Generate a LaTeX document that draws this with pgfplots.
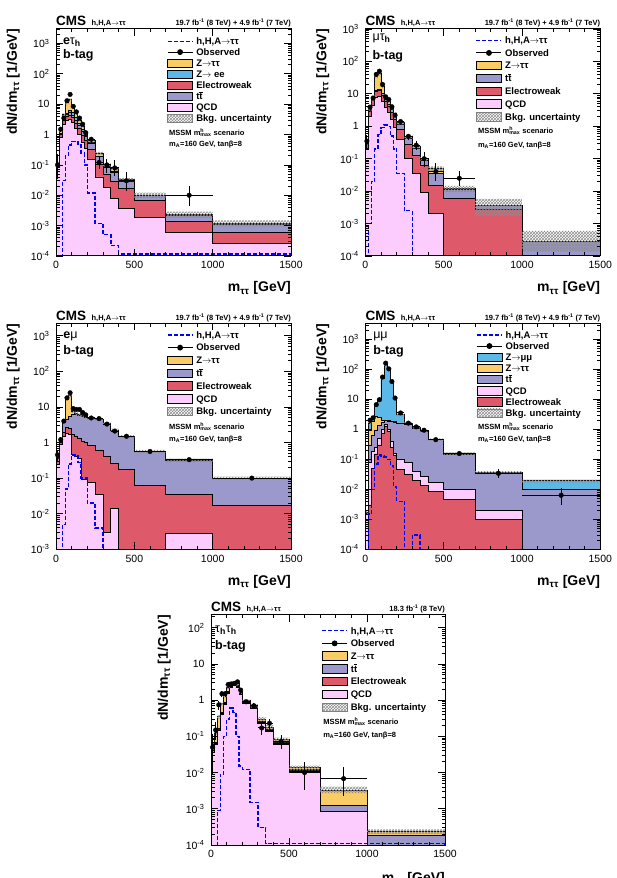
\documentclass[border=0pt]{standalone}
\usepackage{fontspec}
\setmainfont{Liberation Sans}
\usepackage{pgfplots}
\pgfplotsset{compat=1.18}
\usepackage{pgfplotstable}
\usetikzlibrary{patterns}

\definecolor{cZtt}{RGB}{250,204,102}
\definecolor{cZll}{RGB}{92,184,230}
\definecolor{cEWK}{RGB}{222,90,106}
\definecolor{cTT}{RGB}{155,152,204}
\definecolor{cQCD}{RGB}{252,204,255}
\definecolor{cSig}{RGB}{0,0,255}

% common look of all five panels
\pgfplotsset{
  scale only axis, width=235pt, height=227pt,
  xmin=0, xmax=1500,
  xtick={0,500,1000,1500}, xticklabels={0,500,1000,1500},
  minor x tick num=4,
  minor ytick={2e-5,3e-5,4e-5,5e-5,6e-5,7e-5,8e-5,9e-5,
    2e-4,3e-4,4e-4,5e-4,6e-4,7e-4,8e-4,9e-4,
    2e-3,3e-3,4e-3,5e-3,6e-3,7e-3,8e-3,9e-3,
    0.02,0.03,0.04,0.05,0.06,0.07,0.08,0.09,
    0.2,0.3,0.4,0.5,0.6,0.7,0.8,0.9,
    2,3,4,5,6,7,8,9,20,30,40,50,60,70,80,90,
    200,300,400,500,600,700,800,900,
    2000,3000,4000,5000,6000,7000,8000,9000},
  tick align=inside,
  major tick length=7pt, minor tick length=3.5pt,
  every tick/.style={black, line width=0.8pt},
  axis line style={line width=1pt},
  ticklabel style={font=\fontsize{10.5}{12}\selectfont},
  xticklabel style={yshift=-2pt},
  yticklabel style={xshift=-3pt},
  xlabel={m\textsubscript{ττ} [GeV]},
  ylabel={dN/dm\textsubscript{ττ} [1/GeV]},
  label style={font=\bfseries\fontsize{14}{16}\selectfont, inner sep=0pt},
  xlabel style={at={(axis description cs:1,-0.113)}, anchor=north east},
  ylabel style={at={(axis description cs:-0.21,1)}, anchor=north east},
  axis on top,
  legend cell align=left,
  legend style={draw=none, fill=none, inner sep=0pt, outer sep=0pt, anchor=north west,
    font=\bfseries\fontsize{9.5}{10}\selectfont,
    nodes={inner xsep=3pt, inner ysep=0pt, text height=7.8pt, text depth=1.2pt}},
}

\pgfplotsset{
  cmsbox/.style={legend image code/.code={\draw[line width=0.8pt,##1] (0pt,-4.2pt) rectangle (25pt,4.2pt);}},
  cmsline/.style={legend image code/.code={\draw[##1] (0pt,0pt) -- (25pt,0pt);}},
  cmsobs/.style={legend image code/.code={\draw[##1] (0pt,0pt) -- (25pt,0pt); \fill[black] (12.5pt,0pt) circle (2.4pt);}},
  stackfill/.style={const plot, mark=none, draw=black, line width=0.9pt, forget plot},
  sigdash/.style={const plot, mark=none, cSig, line width=1.4pt, dash pattern=on 4pt off 2pt, forget plot},
  % upper edge and lower edge of the band in one path; even-odd leaves only the strip between them
  uncband/.style={const plot, mark=none, draw=none, pattern=crosshatch, pattern color=black!45, even odd rule, forget plot},
  datapts/.style={only marks, mark=*, mark size=2.3pt, black, mark options={solid, fill=black, draw=black}, forget plot,
    error bars/x dir=both, error bars/x explicit, error bars/y dir=both, error bars/y explicit,
    error bars/error mark=none, error bars/error bar style={line width=1pt, black}},
}
\tikzset{
  chanlab/.style={anchor=west, inner sep=0pt, font=\bfseries\fontsize{12.5}{14}\selectfont},
  notelab/.style={anchor=west, inner sep=0pt, font=\bfseries\fontsize{7.5}{8}\selectfont},
  toplab/.style={inner sep=0pt, font=\bfseries\fontsize{7.5}{8}\selectfont},
  cmslab/.style={anchor=base west, inner sep=0pt, font=\bfseries\fontsize{13.5}{14}\selectfont},
}

% ---------------- e tau_h, b-tag ----------------
\pgfplotstableread{
x qcd ewk tt zee ztt sig
0 1e-9 1e-9 1e-9 1e-9 1e-9 1e-9
0 0.08 0.095 0.105 0.105 0.12 1e-9
20 0.8 1.0 1.1 1.1 1.4 1e-9
40 2.2 2.9 3.2 3.3 4.5 0.03
60 3.0 4.0 4.6 5.0 11 0.2
80 3.2 4.4 5.2 6.0 14 0.45
100 2.5 3.6 4.3 5.3 8.5 0.6
120 1.6 2.4 3.0 3.8 5.0 0.6
140 1.0 1.55 2.0 2.4 3.0 0.45
160 0.55 0.95 1.3 1.45 1.8 0.25
180 0.35 0.62 0.85 0.9 1.05 0.1
200 0.15 0.32 0.52 0.54 0.62 0.012
250 0.04 0.10 0.19 0.19 0.24 0.0012
300 0.018 0.05 0.085 0.086 0.10 0.0005
350 0.008 0.029 0.058 0.059 0.075 0.00022
400 0.0036 0.0166 0.0275 0.0278 0.033 1.15e-4
500 0.0019 0.0068 0.0098 0.0099 0.0100 1.15e-4
700 0.0006 0.0014 0.0022 0.0022 0.0023 1.15e-4
1000 0.00025 0.0006 0.0011 0.0011 0.0012 1.15e-4
1500 0.00025 0.0006 0.0011 0.0011 0.0012 1.15e-4
1500 1e-9 1e-9 1e-9 1e-9 1e-9 1e-9
}\tabA
\pgfplotstableread{
x y
0 1e-9
0 0.135
20 1.55
40 5.0
60 12.2
80 15.5
100 9.4
120 5.55
140 3.35
160 2.0
180 1.17
200 0.69
250 0.27
300 0.112
350 0.085
400 0.037
500 0.0122
700 0.0029
1000 0.0015
1500 0.0015
1500 1e-9
0 1e-9
0 0.105
20 1.25
40 4.0
60 9.8
80 12.5
100 7.6
120 4.45
140 2.65
160 1.6
180 0.93
200 0.55
250 0.21
300 0.088
350 0.065
400 0.029
500 0.0082
700 0.0018
1000 0.00095
1500 0.00095
1500 1e-9
}\bandA
\pgfplotstableread{
xc ex v ep em
10 10 0.1 0.13 0.065
30 10 1.5 0.3 0.27
50 10 3.5 0.42 0.42
70 10 13 0.8 0.8
90 10 21 1.0 1.0
110 10 8.5 0.65 0.65
130 10 5.6 0.53 0.53
150 10 3.5 0.42 0.42
170 10 2.2 0.33 0.33
190 10 1.15 0.24 0.24
225 25 0.7 0.12 0.12
275 25 0.12 0.065 0.048
325 25 0.1 0.06 0.044
375 25 0.08 0.063 0.038
450 50 0.03 0.029 0.016
850 150 0.01 0.0097 0.0055
}\obsA

% ---------------- mu tau_h, b-tag ----------------
\pgfplotstableread{
x qcd ewk tt ztt sig
0 1e-9 1e-9 1e-9 1e-9 1e-9
0 0.2 0.27 0.29 0.32 1e-9
20 2.0 2.8 3.0 3.3 0.001
40 4.5 6.5 7.0 8.0 0.02
60 8 11.5 12.5 35 0.2
80 8.5 12.5 13.5 42 0.55
100 6 9 10 17 0.9
120 3.8 5.8 6.6 8.5 1.1
140 2.6 4.0 4.8 5.8 1.0
160 1.6 2.6 3.2 3.8 0.5
180 0.95 1.6 2.1 2.4 0.2
200 0.4 0.8 1.15 1.3 0.035
250 0.1 0.28 0.42 0.47 0.0025
300 0.035 0.13 0.21 0.24 1e-9
350 0.009 0.06 0.09 0.10 1e-9
400 0.002 0.015 0.036 0.05 1e-9
500 1e-9 0.006 0.0115 0.012 1e-9
700 1e-9 0.0028 0.0035 0.0036 1e-9
1000 1e-9 1e-9 0.00028 0.00029 1e-9
1500 1e-9 1e-9 0.00028 0.00029 1e-9
1500 1e-9 1e-9 1e-9 1e-9 1e-9
}\tabB
\pgfplotstableread{
x y
0 1e-9
0 0.37
20 3.7
40 9.0
60 39
80 47
100 19
120 9.5
140 6.5
160 4.25
180 2.7
200 1.45
250 0.53
300 0.27
350 0.112
400 0.058
500 0.0145
700 0.0058
1000 0.0006
1500 0.0006
1500 1e-9
0 1e-9
0 0.27
20 2.9
40 7.0
60 31
80 37
100 15
120 7.5
140 5.1
160 3.35
180 2.1
200 1.15
250 0.41
300 0.21
350 0.088
400 0.042
500 0.0095
700 0.0017
1000 0.00014
1500 0.00014
1500 1e-9
}\bandB
\pgfplotstableread{
xc ex v ep em
10 10 0.35 0.17 0.13
30 10 3.9 0.44 0.44
50 10 7.4 0.61 0.61
70 10 40 1.4 1.4
90 10 50 1.6 1.6
110 10 19.6 1.0 1.0
130 10 8.1 0.64 0.64
150 10 6.7 0.58 0.58
170 10 4.0 0.45 0.45
190 10 2.2 0.33 0.33
225 25 1.4 0.17 0.17
275 25 0.49 0.1 0.1
325 25 0.26 0.085 0.072
375 25 0.1 0.06 0.044
450 50 0.04 0.032 0.019
600 100 0.025 0.017 0.011
}\obsB

% ---------------- e mu, b-tag ----------------
\pgfplotstableread{
x qcd ewk tt ztt sig
0 1e-9 1e-9 1e-9 1e-9 1e-9
0 0.25 0.3 0.35 0.38 1e-9
20 0.9 1.1 1.2 1.3 1e-9
40 1.5 1.9 3.6 4.2 0.005
60 1.8 2.7 4.5 17 0.05
80 1.7 2.5 5.5 21 0.25
100 0.45 1.7 6.0 7.5 0.45
120 0.4 1.5 6.0 6.5 0.42
140 0.35 1.3 5.8 6.0 0.28
160 0.09 1.1 5.5 5.6 0.1
180 0.09 1.0 5.2 5.3 0.1
200 0.075 0.84 4.6 4.7 0.02
250 0.035 0.6 4.4 4.45 0.004
300 0.003 0.4 3.3 3.35 1e-9
350 0.014 0.26 2.2 2.25 1e-9
400 1e-9 0.17 1.45 1.48 1e-9
500 1e-9 0.063 0.55 0.56 1e-9
700 0.0027 0.035 0.31 0.32 1e-9
1000 1e-9 0.017 0.1 0.1 1e-9
1500 1e-9 0.017 0.1 0.1 1e-9
1500 1e-9 1e-9 1e-9 1e-9 1e-9
}\tabC
\pgfplotstableread{
x y
0 1e-9
0 0.42
20 1.43
40 4.6
60 18.5
80 23
100 8.2
120 7.1
140 6.55
160 6.1
180 5.8
200 5.1
250 4.85
300 3.65
350 2.45
400 1.61
500 0.62
700 0.355
1000 0.11
1500 0.11
1500 1e-9
0 1e-9
0 0.34
20 1.17
40 3.8
60 15.5
80 19
100 6.8
120 5.9
140 5.45
160 5.1
180 4.8
200 4.3
250 4.05
300 3.05
350 2.05
400 1.35
500 0.5
700 0.285
1000 0.09
1500 0.09
1500 1e-9
}\bandC
\pgfplotstableread{
xc ex v ep em
10 10 0.45 0.15 0.15
30 10 1.2 0.25 0.25
50 10 4.0 0.45 0.45
70 10 18 0.95 0.95
90 10 25 1.1 1.1
110 10 9 0.67 0.67
130 10 8.5 0.65 0.65
150 10 8.5 0.65 0.65
170 10 7 0.6 0.6
190 10 6 0.55 0.55
225 25 4.9 0.31 0.31
275 25 4.7 0.31 0.31
325 25 3.3 0.26 0.26
375 25 2.1 0.2 0.2
450 50 1.5 0.12 0.12
600 100 0.56 0.053 0.053
850 150 0.33 0.033 0.033
1250 250 0.1 0.014 0.014
}\obsC

% ---------------- mu mu, b-tag ----------------
\pgfplotstableread{
x ewk qcd tt ztt zmm sig
0 1e-9 1e-9 1e-9 1e-9 1e-9 1e-9
0 1e-9 0.0015 0.0016 0.0016 0.0017 1e-9
20 0.003 0.08 0.3 0.9 1.6 0.0015
40 0.05 0.18 0.6 1.8 2.6 0.01
60 0.15 0.25 0.9 2.7 6.5 0.07
80 0.3 0.5 1.3 2.4 10 0.14
100 0.7 1.0 1.7 2.0 50 0.13
120 1.2 1.4 1.9 2.0 140 0.12
140 0.85 1.0 1.85 1.9 95 0.1
160 0.24 0.4 1.8 1.85 38 0.06
180 0.13 0.16 1.75 1.8 10.5 0.012
200 0.046 0.1 1.6 1.62 3.0 0.004
250 0.031 0.076 1.4 1.42 1.6 1e-9
300 0.019 0.04 1.1 1.11 1.15 0.0003
350 0.013 0.027 0.85 0.86 0.88 1e-9
400 0.0087 0.017 0.45 0.455 0.46 1e-9
500 0.0046 0.01 0.145 0.147 0.155 1e-9
700 0.001 0.0019 0.035 0.0352 0.036 1e-9
1000 1e-9 1e-9 0.0099 0.0099 0.019 1e-9
1500 1e-9 1e-9 0.0099 0.0099 0.019 1e-9
1500 1e-9 1e-9 1e-9 1e-9 1e-9 1e-9
}\tabD
\pgfplotstableread{
x y
0 1e-9
0 0.0019
20 1.75
40 2.85
60 7.1
80 10.9
100 54
120 150
140 102
160 41
180 11.3
200 3.25
250 1.73
300 1.25
350 0.96
400 0.5
500 0.17
700 0.04
1000 0.021
1500 0.021
1500 1e-9
0 1e-9
0 0.0015
20 1.45
40 2.35
60 5.9
80 9.1
100 46
120 130
140 88
160 35
180 9.7
200 2.75
250 1.47
300 1.05
350 0.8
400 0.42
500 0.14
700 0.032
1000 0.017
1500 0.017
1500 1e-9
}\bandD
\pgfplotstableread{
xc ex v ep em
30 10 2.0 0.32 0.32
50 10 2.4 0.35 0.35
70 10 6.6 0.57 0.57
90 10 9.7 0.7 0.7
110 10 55 1.66 1.66
130 10 160 2.8 2.8
150 10 103 2.3 2.3
170 10 39 1.4 1.4
190 10 11 0.74 0.74
225 25 3.5 0.26 0.26
275 25 1.6 0.18 0.18
325 25 1.2 0.155 0.155
375 25 0.93 0.136 0.136
450 50 0.45 0.067 0.067
600 100 0.155 0.028 0.028
850 150 0.034 0.013 0.0105
1250 250 0.0063 0.0045 0.0033
}\obsD

% ---------------- tau_h tau_h, b-tag ----------------
\pgfplotstableread{
x qcd ewk tt ztt sig
0 1e-9 1e-9 1e-9 1e-9 1e-9
0 0.035 0.037 0.04 0.065 1e-9
20 0.06 0.065 0.07 0.13 1e-9
40 0.15 0.16 0.17 0.35 0.0009
60 0.4 0.43 0.46 0.8 0.009
80 0.75 0.8 0.85 1.35 0.1
100 1.5 1.6 1.7 2.3 0.3
120 2.3 2.45 2.6 3.0 0.6
140 2.5 2.65 2.8 3.1 0.45
160 2.3 2.45 2.6 2.8 0.1
180 1.4 1.5 1.6 1.7 0.015
200 0.8 0.85 0.9 0.95 0.012
250 0.58 0.61 0.65 0.7 0.0015
300 0.22 0.24 0.26 0.3 0.0003
350 0.14 0.15 0.16 0.18 1.1e-4
400 0.06 0.065 0.07 0.08 1.1e-4
500 0.0105 0.0112 0.0125 0.0135 1.1e-4
700 0.00083 0.00086 0.0012 0.0033 1.1e-4
1000 1e-9 1e-9 0.00018 0.00023 1.1e-4
1500 1e-9 1e-9 0.00018 0.00023 1.1e-4
1500 1e-9 1e-9 1e-9 1e-9 1e-9
}\tabE
\pgfplotstableread{
x y
0 1e-9
0 0.075
20 0.15
40 0.39
60 0.89
80 1.5
100 2.55
120 3.3
140 3.4
160 3.1
180 1.88
200 1.05
250 0.78
300 0.34
350 0.205
400 0.092
500 0.0155
700 0.0041
1000 0.00027
1500 0.00027
1500 1e-9
0 1e-9
0 0.055
20 0.11
40 0.31
60 0.71
80 1.2
100 2.05
120 2.7
140 2.8
160 2.5
180 1.52
200 0.85
250 0.62
300 0.26
350 0.155
400 0.068
500 0.0115
700 0.0027
1000 0.0002
1500 0.0002
1500 1e-9
}\bandE
\pgfplotstableread{
xc ex v ep em
10 10 0.05 0.066 0.041
30 10 0.15 0.1 0.07
50 10 0.74 0.19 0.19
70 10 1.5 0.27 0.27
90 10 1.5 0.27 0.27
110 10 2.7 0.37 0.37
130 10 2.8 0.37 0.37
150 10 2.9 0.38 0.38
170 10 3.2 0.4 0.4
190 10 1.9 0.31 0.31
225 25 0.9 0.134 0.134
275 25 0.7 0.118 0.118
325 25 0.17 0.07 0.058
375 25 0.23 0.068 0.068
450 50 0.072 0.034 0.026
600 100 0.01 0.01 0.0067
850 150 0.0068 0.0078 0.0046
}\obsE

\newcommand\ttbar{t$\overline{\mbox{t}}$}
\newcommand\mssm{MSSM m\rlap{\textsuperscript{h}}\textsubscript{max} scenario}
\newcommand\mAtb{m\textsubscript{A}=160 GeV, tanβ=8}
\newcommand\lumiboth{19.7 fb\textsuperscript{-1} (8 TeV) + 4.9 fb\textsuperscript{-1} (7 TeV)}
\newcommand\signame{h,H,A$\rightarrow$ττ}
% title line above a named axis
\newcommand\cmstitle[2]{%
  \node[cmslab] (#1cms) at ([yshift=3pt]#1.north west) {CMS};
  \node[toplab, anchor=base west] at ([xshift=5pt]#1cms.base east) {\signame};
  \node[toplab, anchor=base east] at ([yshift=3pt]#1.north east) {#2};}

\begin{document}
\begin{tikzpicture}
\useasboundingbox (0,0) rectangle (617pt,878pt);

% ===== e tau_h =====
\begin{axis}[name=pA, at={(56pt,622pt)}, anchor=south west, ymode=log, ymin=1e-4, ymax=3000,
  ytick={1e-4,1e-3,1e-2,1e-1,1,10,100,1000},
  yticklabels={10\textsuperscript{-4},10\textsuperscript{-3},10\textsuperscript{-2},10\textsuperscript{-1},1,10,10\textsuperscript{2},10\textsuperscript{3}},
  legend style={at={(axis description cs:0.472,0.966)}, row sep=1.9pt}]
\addplot[stackfill, fill=cZtt] table[x=x,y=ztt]{\tabA};
\addplot[stackfill, fill=cZll] table[x=x,y=zee]{\tabA};
\addplot[stackfill, fill=cTT] table[x=x,y=tt]{\tabA};
\addplot[stackfill, fill=cEWK] table[x=x,y=ewk]{\tabA};
\addplot[stackfill, fill=cQCD] table[x=x,y=qcd]{\tabA};
\addplot[uncband] table[x=x,y=y]{\bandA};
\addplot[sigdash] table[x=x,y=sig]{\tabA};
\addplot[datapts] table[x=xc,y=v,x error=ex,y error plus=ep,y error minus=em]{\obsA};
\addlegendimage{cmsline, cSig, line width=1.4pt, dash pattern=on 4pt off 2pt}\addlegendentry{\signame}
\addlegendimage{cmsobs, black, line width=1pt}\addlegendentry{Observed}
\addlegendimage{cmsbox, fill=cZtt}\addlegendentry{Z$\rightarrow$ττ}
\addlegendimage{cmsbox, fill=cZll}\addlegendentry{Z$\rightarrow$ ee}
\addlegendimage{cmsbox, fill=cEWK}\addlegendentry{Electroweak}
\addlegendimage{cmsbox, fill=cTT}\addlegendentry{\ttbar}
\addlegendimage{cmsbox, fill=cQCD}\addlegendentry{QCD}
\addlegendimage{cmsbox, pattern=crosshatch, pattern color=black!45, draw=black!50}\addlegendentry{Bkg. uncertainty}
\node[chanlab] at (axis description cs:0.029,0.941) {e{\mdseries τ}\textsubscript{h}};
\node[chanlab] at (axis description cs:0.029,0.884) {b-tag};
\node[notelab] at (axis description cs:0.481,0.545) {\mssm};
\node[notelab] at (axis description cs:0.481,0.493) {\mAtb};
\end{axis}
\cmstitle{pA}{\lumiboth}

% ===== mu tau_h =====
\begin{axis}[name=pB, at={(365.3pt,622pt)}, anchor=south west, ymode=log, ymin=1e-4, ymax=1000,
  ytick={1e-4,1e-3,1e-2,1e-1,1,10,100,1000},
  yticklabels={10\textsuperscript{-4},10\textsuperscript{-3},10\textsuperscript{-2},10\textsuperscript{-1},1,10,10\textsuperscript{2},10\textsuperscript{3}},
  legend style={at={(axis description cs:0.47,0.970)}, row sep=3.6pt}]
\addplot[stackfill, fill=cZtt] table[x=x,y=ztt]{\tabB};
\addplot[stackfill, fill=cTT] table[x=x,y=tt]{\tabB};
\addplot[stackfill, fill=cEWK] table[x=x,y=ewk]{\tabB};
\addplot[stackfill, fill=cQCD] table[x=x,y=qcd]{\tabB};
\addplot[uncband] table[x=x,y=y]{\bandB};
\addplot[sigdash] table[x=x,y=sig]{\tabB};
\addplot[datapts] table[x=xc,y=v,x error=ex,y error plus=ep,y error minus=em]{\obsB};
\addlegendimage{cmsline, cSig, line width=1.4pt, dash pattern=on 4pt off 2pt}\addlegendentry{\signame}
\addlegendimage{cmsobs, black, line width=1pt}\addlegendentry{Observed}
\addlegendimage{cmsbox, fill=cZtt}\addlegendentry{Z$\rightarrow$ττ}
\addlegendimage{cmsbox, fill=cTT}\addlegendentry{\ttbar}
\addlegendimage{cmsbox, fill=cEWK}\addlegendentry{Electroweak}
\addlegendimage{cmsbox, fill=cQCD}\addlegendentry{QCD}
\addlegendimage{cmsbox, pattern=crosshatch, pattern color=black!45, draw=black!50}\addlegendentry{Bkg. uncertainty}
\node[chanlab] at (axis description cs:0.03,0.96) {{\mdseries μτ}\textsubscript{h}};
\node[chanlab] at (axis description cs:0.03,0.88) {b-tag};
\node[notelab] at (axis description cs:0.479,0.552) {\mssm};
\node[notelab] at (axis description cs:0.479,0.487) {\mAtb};
\end{axis}
\cmstitle{pB}{\lumiboth}

% ===== e mu =====
\begin{axis}[name=pC, at={(56pt,328.7pt)}, anchor=south west, ymode=log, ymin=1e-3, ymax=2240, height=226pt,
  ytick={1e-3,1e-2,1e-1,1,10,100,1000},
  yticklabels={10\textsuperscript{-3},10\textsuperscript{-2},10\textsuperscript{-1},1,10,10\textsuperscript{2},10\textsuperscript{3}},
  legend style={at={(axis description cs:0.472,0.968)}, row sep=3.6pt}]
\addplot[stackfill, fill=cZtt] table[x=x,y=ztt]{\tabC};
\addplot[stackfill, fill=cTT] table[x=x,y=tt]{\tabC};
\addplot[stackfill, fill=cEWK] table[x=x,y=ewk]{\tabC};
\addplot[stackfill, fill=cQCD] table[x=x,y=qcd]{\tabC};
\addplot[uncband] table[x=x,y=y]{\bandC};
\addplot[sigdash] table[x=x,y=sig]{\tabC};
\addplot[datapts] table[x=xc,y=v,x error=ex,y error plus=ep,y error minus=em]{\obsC};
\addlegendimage{cmsline, cSig, line width=1.4pt, dash pattern=on 4pt off 2pt}\addlegendentry{\signame}
\addlegendimage{cmsobs, black, line width=1pt}\addlegendentry{Observed}
\addlegendimage{cmsbox, fill=cZtt}\addlegendentry{Z$\rightarrow$ττ}
\addlegendimage{cmsbox, fill=cTT}\addlegendentry{\ttbar}
\addlegendimage{cmsbox, fill=cEWK}\addlegendentry{Electroweak}
\addlegendimage{cmsbox, fill=cQCD}\addlegendentry{QCD}
\addlegendimage{cmsbox, pattern=crosshatch, pattern color=black!45, draw=black!50}\addlegendentry{Bkg. uncertainty}
\node[chanlab] at (axis description cs:0.031,0.941) {e{\mdseries μ}};
\node[chanlab] at (axis description cs:0.031,0.874) {b-tag};
\node[notelab] at (axis description cs:0.481,0.542) {\mssm};
\node[notelab] at (axis description cs:0.481,0.487) {\mAtb};
\end{axis}
\cmstitle{pC}{\lumiboth}

% ===== mu mu =====
\begin{axis}[name=pD, at={(365.3pt,328.7pt)}, anchor=south west, ymode=log, ymin=1e-4, ymax=3400, height=226pt,
  ytick={1e-4,1e-3,1e-2,1e-1,1,10,100,1000},
  yticklabels={10\textsuperscript{-4},10\textsuperscript{-3},10\textsuperscript{-2},10\textsuperscript{-1},1,10,10\textsuperscript{2},10\textsuperscript{3}},
  legend style={at={(axis description cs:0.472,0.968)}, row sep=2pt}]
\addplot[stackfill, fill=cZll] table[x=x,y=zmm]{\tabD};
\addplot[stackfill, fill=cZtt] table[x=x,y=ztt]{\tabD};
\addplot[stackfill, fill=cTT] table[x=x,y=tt]{\tabD};
\addplot[stackfill, fill=cQCD] table[x=x,y=qcd]{\tabD};
\addplot[stackfill, fill=cEWK] table[x=x,y=ewk]{\tabD};
\addplot[uncband] table[x=x,y=y]{\bandD};
\addplot[sigdash] table[x=x,y=sig]{\tabD};
\addplot[datapts] table[x=xc,y=v,x error=ex,y error plus=ep,y error minus=em]{\obsD};
\addlegendimage{cmsline, cSig, line width=1.4pt, dash pattern=on 4pt off 2pt}\addlegendentry{\signame}
\addlegendimage{cmsobs, black, line width=1pt}\addlegendentry{Observed}
\addlegendimage{cmsbox, fill=cZll}\addlegendentry{Z$\rightarrow$μμ}
\addlegendimage{cmsbox, fill=cZtt}\addlegendentry{Z$\rightarrow$ττ}
\addlegendimage{cmsbox, fill=cTT}\addlegendentry{\ttbar}
\addlegendimage{cmsbox, fill=cQCD}\addlegendentry{QCD}
\addlegendimage{cmsbox, fill=cEWK}\addlegendentry{Electroweak}
\addlegendimage{cmsbox, pattern=crosshatch, pattern color=black!45, draw=black!50}\addlegendentry{Bkg. uncertainty}
\node[chanlab] at (axis description cs:0.033,0.941) {{\mdseries μμ}};
\node[chanlab] at (axis description cs:0.033,0.877) {b-tag};
\node[notelab] at (axis description cs:0.479,0.542) {\mssm};
\node[notelab] at (axis description cs:0.479,0.487) {\mAtb};
\end{axis}
\cmstitle{pD}{\lumiboth}

% ===== tau_h tau_h =====
\begin{axis}[name=pE, at={(211pt,33pt)}, anchor=south west, ymode=log, ymin=1e-4, ymax=224, width=234pt, height=230pt,
  ytick={1e-4,1e-3,1e-2,1e-1,1,10,100},
  yticklabels={10\textsuperscript{-4},10\textsuperscript{-3},10\textsuperscript{-2},10\textsuperscript{-1},1,10,10\textsuperscript{2}},
  ylabel style={at={(axis description cs:-0.229,1)}},
  xlabel style={at={(axis description cs:1,-0.116)}},
  legend style={at={(axis description cs:0.472,0.951)}, row sep=3.6pt}]
\addplot[stackfill, fill=cZtt] table[x=x,y=ztt]{\tabE};
\addplot[stackfill, fill=cTT] table[x=x,y=tt]{\tabE};
\addplot[stackfill, fill=cEWK] table[x=x,y=ewk]{\tabE};
\addplot[stackfill, fill=cQCD] table[x=x,y=qcd]{\tabE};
\addplot[uncband] table[x=x,y=y]{\bandE};
\addplot[sigdash] table[x=x,y=sig]{\tabE};
\addplot[datapts] table[x=xc,y=v,x error=ex,y error plus=ep,y error minus=em]{\obsE};
\addlegendimage{cmsline, cSig, line width=1.4pt, dash pattern=on 4pt off 2pt}\addlegendentry{\signame}
\addlegendimage{cmsobs, black, line width=1pt}\addlegendentry{Observed}
\addlegendimage{cmsbox, fill=cZtt}\addlegendentry{Z$\rightarrow$ττ}
\addlegendimage{cmsbox, fill=cTT}\addlegendentry{\ttbar}
\addlegendimage{cmsbox, fill=cEWK}\addlegendentry{Electroweak}
\addlegendimage{cmsbox, fill=cQCD}\addlegendentry{QCD}
\addlegendimage{cmsbox, pattern=crosshatch, pattern color=black!45, draw=black!50}\addlegendentry{Bkg. uncertainty}
\node[chanlab] at (axis description cs:0.017,0.935) {{\mdseries τ}\textsubscript{h}{\mdseries τ}\textsubscript{h}};
\node[chanlab] at (axis description cs:0.017,0.862) {b-tag};
\node[notelab] at (axis description cs:0.479,0.536) {\mssm};
\node[notelab] at (axis description cs:0.479,0.477) {\mAtb};
\end{axis}
\cmstitle{pE}{18.3 fb\textsuperscript{-1} (8 TeV)}
\end{tikzpicture}
\end{document}
